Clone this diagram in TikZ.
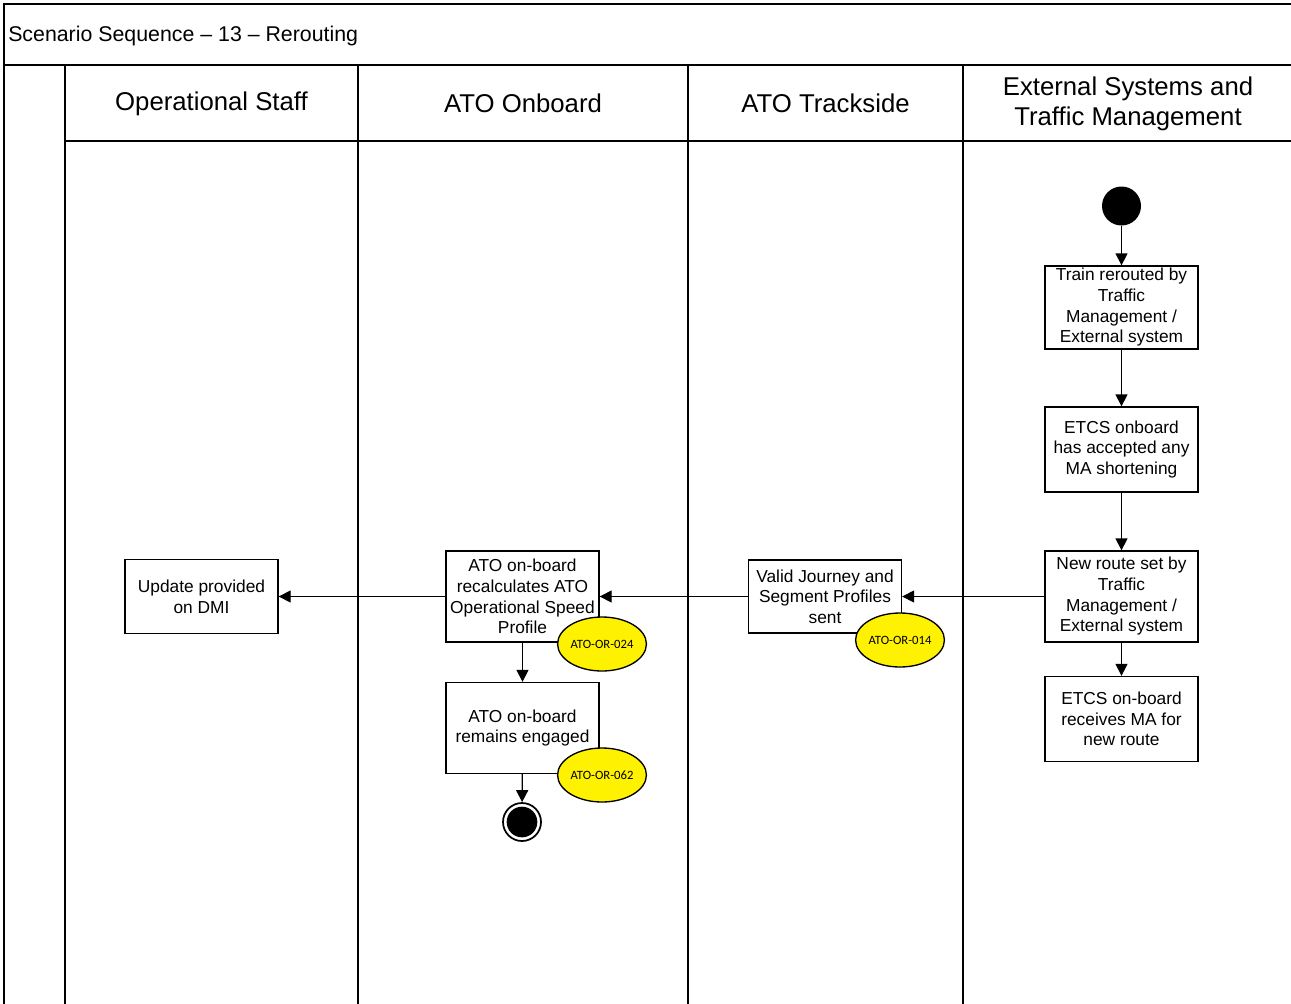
\documentclass[tikz,border=0pt]{standalone}
\usepackage{fontspec}
\setmainfont{Liberation Sans}
\newfontfamily\tagfont{Carlito}
\usetikzlibrary{arrows.meta,shapes.geometric}

\begin{document}
\begin{tikzpicture}[x=0.75pt,y=-0.75pt,
  lane/.style={line width=1.5pt},
  actbox/.style={draw,line width=1pt,fill=white,align=center,inner sep=1pt,
    minimum width=114.75pt,font=\fontsize{13}{15.5}\selectfont},
  reqtag/.style={draw,ellipse,fill=yellow,line width=1pt,minimum width=62pt,
    minimum height=40.5pt,inner sep=0pt,font=\tagfont\fontsize{9.5}{11}\selectfont},
  flow/.style={line width=1pt,-{Triangle[length=9pt,width=9pt]}},
  lanehead/.style={align=center,font=\fontsize{19.3}{22.5}\selectfont}
]
\path[use as bounding box] (0,0) rectangle (1291,1003);
\clip (0,0) rectangle (1291,1003);

% frame, title band and swimlanes
\draw[lane] (4,1010) -- (4,4) -- (1295,4);
\draw[lane] (4,65) -- (1295,65);
\draw[lane] (65,141) -- (1295,141);
\foreach \xl in {65,358,688,963} \draw[lane] (\xl,65) -- (\xl,1010);

\node[anchor=west,inner sep=0pt,font=\fontsize{16}{19}\selectfont] (title) at (8,36) {Scenario Sequence – 13 – Rerouting};

\node[lanehead] (hstaff) at (211.5,104) {Operational Staff};
\node[lanehead] (honboard) at (523,103) {ATO Onboard};
\node[lanehead] (htrack) at (825.5,103) {ATO Trackside};
\node[lanehead] (hext) at (1128,104) {External Systems and\\Traffic Management};

% activities
\node[circle,fill=black,minimum size=29.25pt,inner sep=0pt] (start) at (1121.5,206) {};
\node[actbox,minimum height=62.25pt] (reroute) at (1121.5,307.5) {Train rerouted by\\Traffic\\Management /\\External system};
\node[actbox,minimum height=63.75pt] (accept) at (1121.5,449.5) {ETCS onboard\\has accepted any\\MA shortening};
\node[actbox,minimum height=68.25pt] (newroute) at (1121.5,596.5) {New route set by\\Traffic\\Management /\\External system};
\node[actbox,minimum height=63.75pt] (receive) at (1121.5,719) {ETCS on-board\\receives MA for\\new route};
\node[actbox,minimum height=54.75pt] (profiles) at (825,596.5) {Valid Journey and\\Segment Profiles\\sent};
\node[actbox,minimum height=68.25pt] (recalc) at (522.5,596.5) {ATO on-board\\recalculates ATO\\Operational Speed\\Profile};
\node[actbox,minimum height=68.25pt] (engaged) at (522.5,728) {ATO on-board\\remains engaged};
\node[actbox,minimum height=55.5pt] (dmi) at (201.5,596.5) {Update provided\\on DMI};
\node[circle,draw,line width=1.3pt,minimum size=28.5pt,inner sep=0pt] (end) at (522,822) {};
\fill (end.center) circle (11.5pt);

% requirement tags
\node[reqtag] (r014) at (900,640) {ATO-OR-014};
\node[reqtag] (r024) at (602,644) {ATO-OR-024};
\node[reqtag] (r062) at (602,775) {ATO-OR-062};

% flows
\draw[flow] (start) -- (reroute);
\draw[flow] (reroute) -- (accept);
\draw[flow] (accept) -- (newroute);
\draw[flow] (newroute) -- (receive);
\draw[flow] (newroute) -- (profiles);
\draw[flow] (profiles) -- (recalc);
\draw[flow] (recalc) -- (dmi);
\draw[flow] (recalc) -- (engaged);
\draw[flow] (engaged) -- (end);
\end{tikzpicture}
\end{document}
